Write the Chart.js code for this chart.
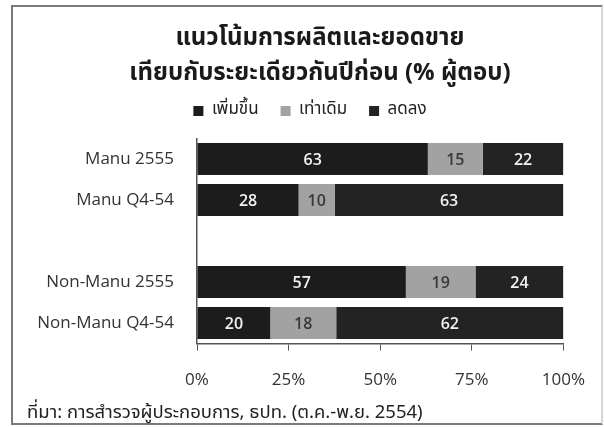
<!DOCTYPE html>
<html>
<head>
<meta charset="utf-8">
<script src="https://cdn.jsdelivr.net/npm/chart.js@4.4.0/dist/chart.umd.min.js"></script>
<style>
  body { margin: 0; background: #fff; }
  #wrap { position: relative; width: 604px; height: 427px; overflow: hidden; }
  #frame { position: absolute; left: 11px; top: 5px; width: 588px; height: 416px;
           border: 2px solid #7a7a7a; border-right-color: #d6d6d6; }
  #src { position: absolute; left: 27px; top: 400px; line-height: 24px; font-size: 18.5px;
         font-family: 'Noto Sans Thai', Tahoma, 'Noto Sans', sans-serif; color: #222; }
  canvas { position: absolute; left: 0; top: 0; }
</style>
</head>
<body>
<div id="wrap">
  <div id="frame"></div>
  <canvas id="myChart" width="604" height="427"></canvas>
  <div id="src">ที่มา: การสำรวจผู้ประกอบการ, ธปท. (ต.ค.-พ.ย. 2554)</div>
</div>
<script>
// values (% of respondents)
const categories = ['Manu 2555', 'Manu Q4-54', '', 'Non-Manu 2555', 'Non-Manu Q4-54'];
const seriesNames = ['เพิ่มขึ้น', 'เท่าเดิม', 'ลดลง'];
const increase = [63, 28, null, 57, 20];
const same = [15, 10, null, 19, 18];
const decrease = [22, 63, null, 24, 62];
const xTicks = [0, 25, 50, 75, 100];

const thai = "'Noto Sans Thai', Tahoma, 'Noto Sans', sans-serif";
const latin = "'Open Sans', sans-serif";

// 100% stacked: each row is scaled to its own total
function share(arr) {
    return arr.map(function (v, i) {
        if (v == null) return null;
        let total = increase[i] + same[i] + decrease[i];
        return v / total * 100;
    });
}

// draws the numbers in the middle of each bar piece
const barLabels = {
    id: 'barLabels',
    afterDatasetsDraw(chart) {
        const ctx = chart.ctx;
        ctx.save();
        ctx.font = '600 16px ' + latin;
        ctx.textAlign = 'center';
        ctx.textBaseline = 'middle';
        chart.data.datasets.forEach(function (ds, di) {
            chart.getDatasetMeta(di).data.forEach(function (bar, i) {
                let v = ds.shown[i];
                if (v == null) return;
                let p = bar.getProps(['x', 'y', 'base'], true);
                ctx.fillStyle = ds.labelColor;
                ctx.fillText(v, (p.x + p.base) / 2, p.y + 1);
            });
        });
        ctx.restore();
    }
};

// title and legend sit a bit right of the frame centre in the original
const shiftHeader = {
    id: 'shiftHeader',
    afterLayout(chart) {
        if (chart.titleBlock) { chart.titleBlock.left += 31.5; chart.titleBlock.right += 31.5; }
        if (chart.legend) { chart.legend.left += 21.5; chart.legend.right += 21.5; }
    }
};

const ctx = document.getElementById('myChart');
new Chart(ctx, {
    type: 'bar',
    data: {
        labels: categories,
        datasets: [{
            label: seriesNames[0],
            data: share(increase),
            shown: increase,
            backgroundColor: '#1c1c1c',
            labelColor: '#f2f2f2'
        }, {
            label: seriesNames[1],
            data: share(same),
            shown: same,
            backgroundColor: '#a2a2a2',
            labelColor: '#3a3a3a'
        }, {
            label: seriesNames[2],
            data: share(decrease),
            shown: decrease,
            backgroundColor: '#232323',
            labelColor: '#f2f2f2'
        }]
    },
    options: {
        indexAxis: 'y',
        responsive: false,
        animation: false,
        devicePixelRatio: 1,
        datasets: { bar: { barPercentage: 0.78, categoryPercentage: 1, borderWidth: 0 } },
        layout: { padding: { left: 12, right: 39, top: 6, bottom: 18 } },
        plugins: {
            tooltip: { enabled: false },
            title: {
                display: true,
                text: ['แนวโน้มการผลิตและยอดขาย', 'เทียบกับระยะเดียวกันปีก่อน (% ผู้ตอบ)'],
                color: '#1a1a1a',
                font: { family: thai, size: 24, weight: 'bold', lineHeight: 35 / 24 },
                padding: { top: 16.5, bottom: -12 }
            },
            legend: {
                labels: {
                    boxWidth: 10,
                    boxHeight: 10,
                    padding: 22,
                    color: '#222',
                    font: { family: thai, size: 17 }
                }
            }
        },
        scales: {
            x: {
                stacked: true,
                min: 0,
                max: 100,
                afterBuildTicks: function (s) {
                    s.ticks = xTicks.map(function (v) { return { value: v }; });
                },
                ticks: {
                    padding: 19,
                    color: '#333',
                    font: { family: latin, size: 17 },
                    callback: function (v) { return v + '%'; }
                },
                grid: { drawOnChartArea: false, drawTicks: true, tickLength: 7, color: '#555' },
                border: { color: '#555', width: 1.5 }
            },
            // empty top axis, only keeps a gap under the legend
            x2: {
                type: 'linear',
                position: 'top',
                grid: { display: false },
                border: { display: false },
                ticks: { display: false },
                afterFit: function (s) { s.height = 9; }
            },
            y: {
                stacked: true,
                grid: { display: false, drawTicks: false },
                border: { display: true, color: '#555', width: 1.5 },
                ticks: {
                    padding: 23,
                    color: '#333',
                    font: { family: latin, size: 17 }
                },
                afterFit: function (s) { s.width = 197 - 12; }
            }
        }
    },
    plugins: [barLabels, shiftHeader]
});
</script>
</body>
</html>
